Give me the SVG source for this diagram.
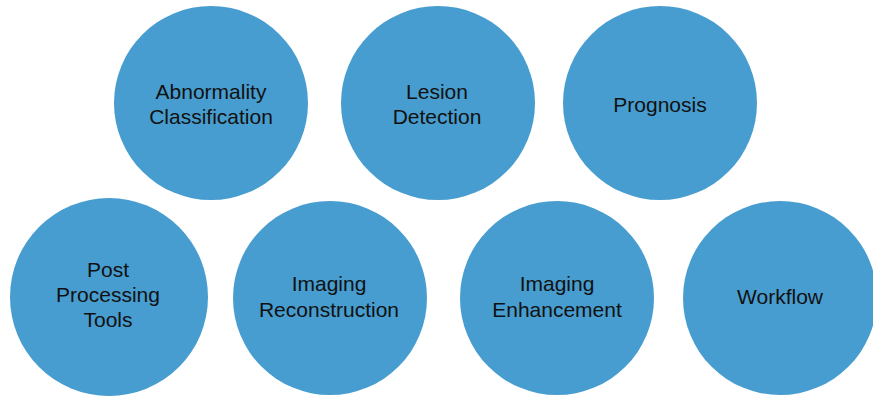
<svg xmlns="http://www.w3.org/2000/svg" width="873" height="398" viewBox="0 0 873 398">
<style>
.c{fill:#479dcf;}
.t{font-family:"Liberation Sans",Arial,sans-serif;font-size:21px;fill:#111;text-anchor:middle;}
</style>
<rect width="873" height="398" fill="#fff"/>
<g id="connectors"></g>
<g id="abnormality"><circle class="c" cx="211" cy="103" r="97"/><text class="t" x="211" y="99">Abnormality</text><text class="t" x="211" y="124">Classification</text></g>
<g id="lesion"><circle class="c" cx="438" cy="103" r="97"/><text class="t" x="437" y="99">Lesion</text><text class="t" x="437" y="124">Detection</text></g>
<g id="prognosis"><circle class="c" cx="660" cy="103" r="97"/><text class="t" x="660" y="112">Prognosis</text></g>
<g id="post"><circle class="c" cx="109" cy="297" r="99"/><text class="t" x="108" y="277">Post</text><text class="t" x="108" y="302">Processing</text><text class="t" x="108" y="327">Tools</text></g>
<g id="reconstruction"><circle class="c" cx="330" cy="298" r="97"/><text class="t" x="329" y="291">Imaging</text><text class="t" x="329" y="317">Reconstruction</text></g>
<g id="enhancement"><circle class="c" cx="557" cy="298" r="97"/><text class="t" x="557" y="291">Imaging</text><text class="t" x="557" y="317">Enhancement</text></g>
<g id="workflow"><circle class="c" cx="780" cy="298" r="97"/><text class="t" x="780" y="304">Workflow</text></g>
</svg>
